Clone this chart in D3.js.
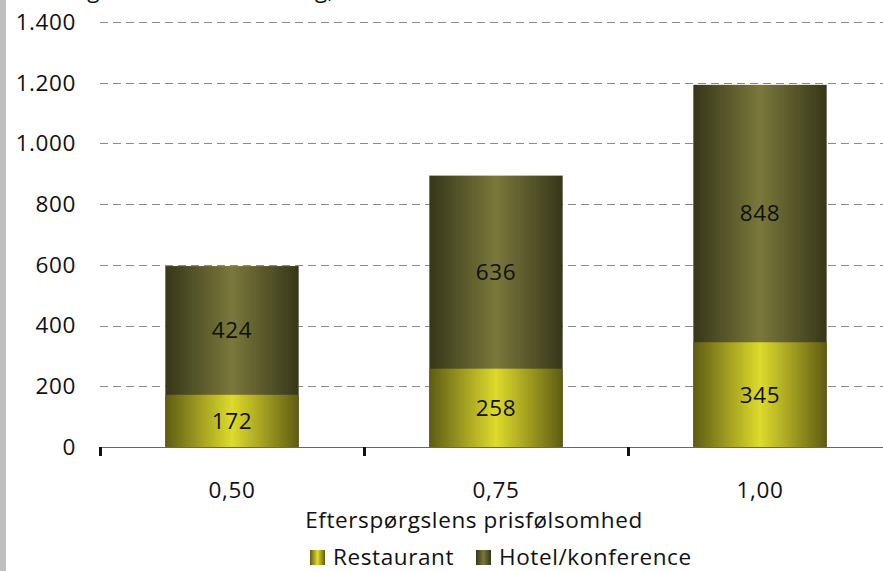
<!DOCTYPE html>
<html lang="da">
<head>
  <meta charset="UTF-8">
  <title>Efterspørgslens prisfølsomhed</title>
  <script src="https://d3js.org/d3.v7.min.js"></script>
  <style>
    body { margin: 0; background: #fff; font-family: "Open Sans", Arial, sans-serif; }
    svg text { fill: #111; font-size: 22.5px; letter-spacing: 0.6px; }
  </style>
</head>
<body>
  <svg width="883" height="571"></svg>
  <script>
    const categories = ["0,50", "0,75", "1,00"];
    const restaurant = [172, 258, 345];
    const hotel = [424, 636, 848];
    const seriesNames = ["Restaurant", "Hotel/konference"];
    const yTicks = [0, 200, 400, 600, 800, 1000, 1200, 1400];

    const svg = d3.select("svg");

    // gray strip at the left edge
    svg.append("rect").attr("x", 0).attr("y", 0).attr("width", 6).attr("height", 571).attr("fill", "#c0c0c0");

    // title, cut off at the top edge as in the original
    svg.append("text").attr("x", 8).attr("y", -2).text("Ændring i turismeomsætning, mio. kr.");

    const defs = svg.append("defs");
    function grad(id, edge, mid) {
      const g = defs.append("linearGradient").attr("id", id).attr("x1", "0%").attr("x2", "100%").attr("y1", "0%").attr("y2", "0%");
      g.append("stop").attr("offset", "0%").attr("stop-color", edge);
      g.append("stop").attr("offset", "50%").attr("stop-color", mid);
      g.append("stop").attr("offset", "100%").attr("stop-color", edge);
    }
    grad("gRest", "#5e5c12", "#dedb2c");
    grad("gHotel", "#36361a", "#7a783a");

    const x = d3.scaleBand().domain(categories).range([100, 892]).paddingInner(0).paddingOuter(0);
    const y = d3.scaleLinear().domain([0, 1400]).range([447, 22]);

    // gridlines
    svg.append("g").selectAll("line").data(yTicks.slice(1)).join("line")
      .attr("x1", 100).attr("x2", 883)
      .attr("y1", d => Math.round(y(d)) + 0.5).attr("y2", d => Math.round(y(d)) + 0.5)
      .attr("stroke", "#8a8a8a").attr("stroke-width", 1.2).attr("stroke-dasharray", "8,5");

    // y labels
    const fmt = d3.formatLocale({ decimal: ",", thousands: ".", grouping: [3], currency: ["", ""] }).format(",d");
    svg.append("g").selectAll("text").data(yTicks).join("text")
      .attr("x", 76).attr("y", d => y(d)).attr("dy", "0.35em")
      .attr("text-anchor", "end")
      .text(d => fmt(d));

    const stack = categories.map((c, i) => ({ c, r: restaurant[i], h: hotel[i] }));
    const bw = x.bandwidth() * 0.505;
    const bx = c => x(c) + (x.bandwidth() - bw) / 2;

    const bars = svg.append("g");
    bars.selectAll("rect.h").data(stack).join("rect").attr("class", "h")
      .attr("x", d => bx(d.c)).attr("width", bw)
      .attr("y", d => y(d.r + d.h)).attr("height", d => y(0) - y(d.r + d.h))
      .attr("fill", "url(#gHotel)");
    bars.selectAll("rect.r").data(stack).join("rect").attr("class", "r")
      .attr("x", d => bx(d.c)).attr("width", bw)
      .attr("y", d => y(d.r)).attr("height", d => y(0) - y(d.r))
      .attr("fill", "url(#gRest)");

    bars.selectAll("text.r").data(stack).join("text").attr("class", "r")
      .attr("x", d => x(d.c) + x.bandwidth() / 2).attr("y", d => y(d.r / 2)).attr("dy", "0.35em")
      .attr("text-anchor", "middle").text(d => d.r);
    bars.selectAll("text.h").data(stack).join("text").attr("class", "h")
      .attr("x", d => x(d.c) + x.bandwidth() / 2).attr("y", d => y(d.r + d.h / 2)).attr("dy", "0.35em")
      .attr("text-anchor", "middle").text(d => d.h);

    // x axis
    svg.append("line").attr("x1", 100).attr("x2", 883).attr("y1", 447.5).attr("y2", 447.5)
      .attr("stroke", "#666").attr("stroke-width", 1.2);
    svg.append("g").selectAll("line").data(categories).join("line")
      .attr("x1", d => x(d) + 0.5).attr("x2", d => x(d) + 0.5)
      .attr("y1", 447).attr("y2", 456).attr("stroke", "#111").attr("stroke-width", 3);
    svg.append("g").selectAll("text").data(categories).join("text")
      .attr("x", d => x(d) + x.bandwidth() / 2).attr("y", 498)
      .attr("text-anchor", "middle").text(d => d);

    svg.append("text").attr("x", 474).attr("y", 528).attr("text-anchor", "middle")
      .text("Efterspørgslens prisfølsomhed");

    // legend
    const legX = [310, 476];
    const leg = svg.append("g");
    seriesNames.forEach((n, i) => {
      leg.append("rect").attr("x", legX[i]).attr("y", 550).attr("width", 15).attr("height", 15)
        .attr("fill", i === 0 ? "url(#gRest)" : "url(#gHotel)");
      leg.append("text").attr("x", legX[i] + 23).attr("y", 565).text(n);
    });
  </script>
</body>
</html>
